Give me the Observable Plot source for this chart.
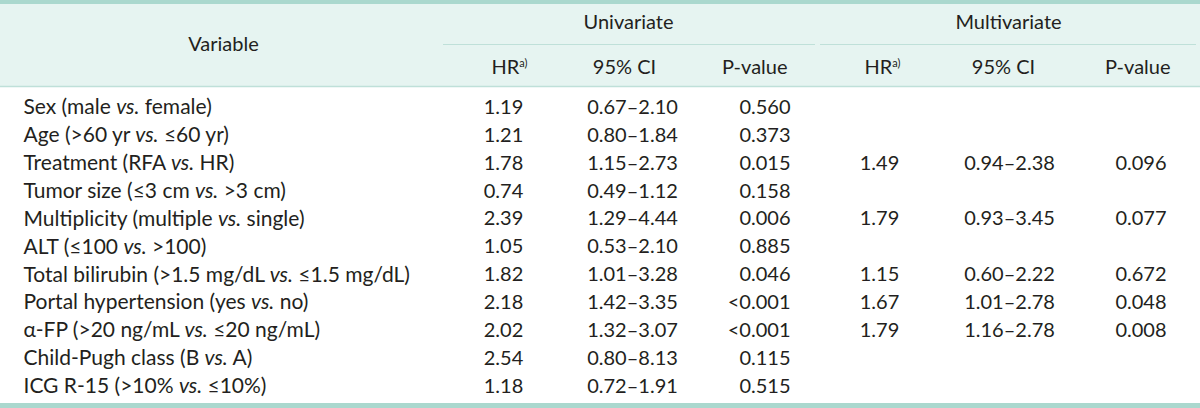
<!DOCTYPE html>
<html>
<head>
<meta charset="utf-8">
<script src="https://cdn.jsdelivr.net/npm/d3@7"></script>
<script src="https://cdn.jsdelivr.net/npm/@observablehq/plot@0.6"></script>
<style>
  html, body { margin: 0; padding: 0; background: #ffffff; }
  #chart svg { display: block; }
</style>
</head>
<body>
<div id="chart"></div>
<script>
// ---------- data ----------
const variables = [
  "Sex (male vs. female)",
  "Age (>60 yr vs. ≤60 yr)",
  "Treatment (RFA vs. HR)",
  "Tumor size (≤3 cm vs. >3 cm)",
  "Multiplicity (multiple vs. single)",
  "ALT (≤100 vs. >100)",
  "Total bilirubin (>1.5 mg/dL vs. ≤1.5 mg/dL)",
  "Portal hypertension (yes vs. no)",
  "α-FP (>20 ng/mL vs. ≤20 ng/mL)",
  "Child-Pugh class (B vs. A)",
  "ICG R-15 (>10% vs. ≤10%)"
];
const uniHR = ["1.19","1.21","1.78","0.74","2.39","1.05","1.82","2.18","2.02","2.54","1.18"];
const uniCI = ["0.67–2.10","0.80–1.84","1.15–2.73","0.49–1.12","1.29–4.44","0.53–2.10","1.01–3.28","1.42–3.35","1.32–3.07","0.80–8.13","0.72–1.91"];
const uniP  = ["0.560","0.373","0.015","0.158","0.006","0.885","0.046","<0.001","<0.001","0.115","0.515"];
const multiHR = ["","","1.49","","1.79","","1.15","1.67","1.79","",""];
const multiCI = ["","","0.94–2.38","","0.93–3.45","","0.60–2.22","1.01–2.78","1.16–2.78","",""];
const multiP  = ["","","0.096","","0.077","","0.672","0.048","0.008","",""];

const groupLabels = ["Univariate", "Multivariate"];
const subLabels = ["HR", "95% CI", "P-value"];
const varHeader = "Variable";
const footnoteMark = "a)";

// ---------- layout ----------
const W = 1200, H = 408;
const FS = 20, FSV = 21;
const L = {
  bodyTop: 93, rowH: 27.9,
  varX: 23,
  groups: [
    {center: 628, line: [443, 815], hr: 527, ci: 624, p: 787, hrCol: 503, ciCol: 632, pCol: 790},
    {center: 1008, line: [820, 1196], hr: 900, ci: 1003, p: 1170, hrCol: 879, ciCol: 1009, pCol: 1166}
  ],
  varHeaderX: 223, varHeaderY: 44,
  groupY: 22, groupLineY: 44, subY: 67,
  headTop: 4, headBottom: 86, bottomTop: 403
};
const font = "Lato, 'Open Sans', sans-serif";
const ink = "#231f20";
const rows = variables.map((v, i) => ({
  v, i,
  y: L.bodyTop + (i + 0.5) * L.rowH,
  cols: [[uniHR[i], uniCI[i], uniP[i]], [multiHR[i], multiCI[i], multiP[i]]]
}));

const marks = [
  // header background and borders
  Plot.rect([0], {x1: 0, x2: W, y1: L.headTop, y2: L.headBottom, fill: "#e6f4f1"}),
  Plot.rect([0], {x1: 0, x2: W, y1: 0, y2: L.headTop, fill: "#aad8ce"}),
  Plot.rect([0], {x1: 0, x2: W, y1: L.bottomTop, y2: H, fill: "#aad8ce"}),
  Plot.ruleY([L.headBottom], {x1: 0, x2: W, stroke: "#bfe0d9", strokeWidth: 1.5}),
  // group header underlines
  Plot.ruleY(L.groups, {y: () => L.groupLineY, x1: g => g.line[0], x2: g => g.line[1], stroke: "#bfe0d9", strokeWidth: 1.2}),
  // header texts
  Plot.text([varHeader], {x: () => L.varHeaderX, y: () => L.varHeaderY, text: d => d, fill: ink, fontSize: FS, textAnchor: "middle"}),
  Plot.text(groupLabels, {x: (d, i) => L.groups[i].center, y: () => L.groupY, text: d => d, fill: ink, fontSize: FS, textAnchor: "middle"}),
  Plot.text(L.groups, {x: "hr", y: () => L.subY, text: () => subLabels[0], fill: ink, fontSize: FS, textAnchor: "end", className: "sub"}),
  Plot.text(L.groups, {x: "ci", y: () => L.subY, text: () => subLabels[1], fill: ink, fontSize: FS, textAnchor: "middle"}),
  Plot.text(L.groups, {x: "p", y: () => L.subY, text: () => subLabels[2], fill: ink, fontSize: FS, textAnchor: "end"}),
  // body
  Plot.text(rows, {x: () => L.varX, y: "y", text: "v", fill: ink, fontSize: FSV, textAnchor: "start", className: "varlabel"}),
  ...L.groups.flatMap((g, gi) => [
    Plot.text(rows, {x: () => g.hrCol, y: "y", text: d => d.cols[gi][0], fill: ink, fontSize: FS, textAnchor: "middle"}),
    Plot.text(rows, {x: () => g.ciCol, y: "y", text: d => d.cols[gi][1], fill: ink, fontSize: FS, textAnchor: "middle"}),
    Plot.text(rows, {x: () => g.pCol, y: "y", text: d => d.cols[gi][2], fill: ink, fontSize: FS, textAnchor: "end"})
  ])
];

const chart = Plot.plot({
  width: W, height: H,
  margin: 0,
  style: {fontFamily: font, background: "#ffffff"},
  x: {type: "linear", domain: [0, W], range: [0, W], axis: null},
  y: {type: "linear", domain: [0, H], range: [0, H], axis: null},
  marks
});
document.getElementById("chart").appendChild(chart);

// rich text: italic "vs." and superscript footnote marker
const NS = "http://www.w3.org/2000/svg";
chart.querySelectorAll("g.varlabel text").forEach(t => {
  const s = t.textContent;
  const k = s.indexOf("vs.");
  if (k < 0) return;
  t.textContent = "";
  [[s.slice(0, k), false], ["vs.", true], [s.slice(k + 3), false]].forEach(([str, it]) => {
    const ts = document.createElementNS(NS, "tspan");
    ts.textContent = str;
    if (it) ts.setAttribute("font-style", "italic");
    t.appendChild(ts);
  });
});
chart.querySelectorAll("g.sub text").forEach(t => {
  const ts = document.createElementNS(NS, "tspan");
  ts.textContent = footnoteMark;
  ts.setAttribute("font-size", "11");
  ts.setAttribute("dy", "-0.6em");
  t.appendChild(ts);
});
</script>
</body>
</html>
